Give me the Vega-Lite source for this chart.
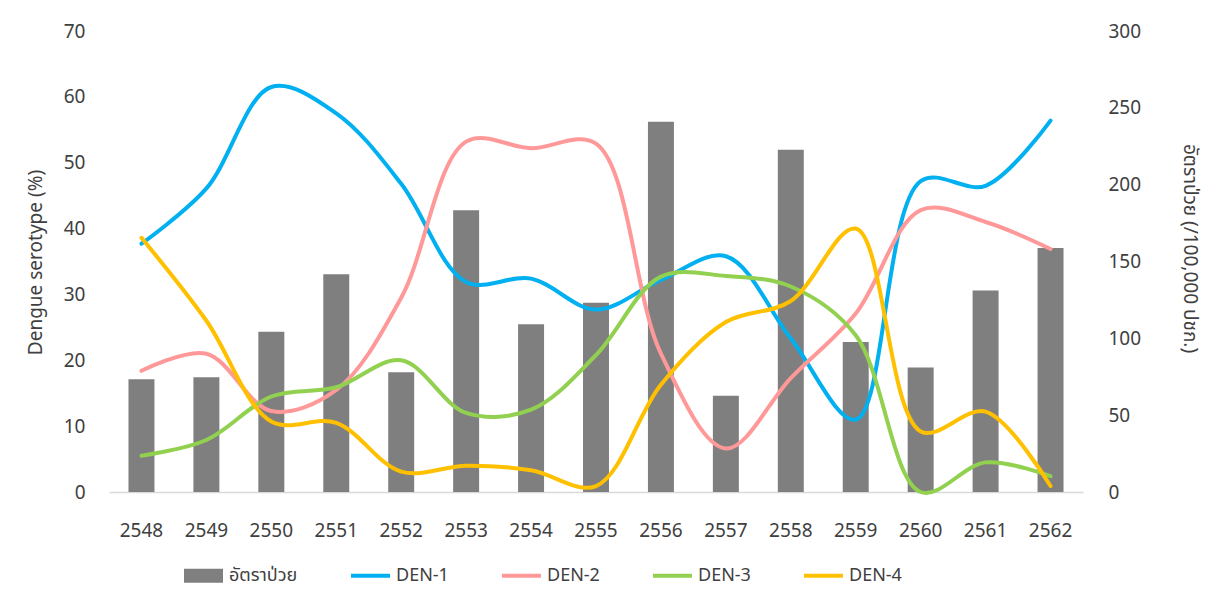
{
  "$schema": "https://vega.github.io/schema/vega-lite/v6.json",
  "width": 974,
  "height": 461,
  "autosize": {"type": "none"},
  "padding": {"left": 109, "top": 31, "right": 136, "bottom": 105},
  "background": "white",
  "datasets": {
    "rate": [
      {"year": "2548", "series": "อัตราป่วย", "rate": 73.3},
      {"year": "2549", "series": "อัตราป่วย", "rate": 74.6},
      {"year": "2550", "series": "อัตราป่วย", "rate": 104.3},
      {"year": "2551", "series": "อัตราป่วย", "rate": 141.7},
      {"year": "2552", "series": "อัตราป่วย", "rate": 77.9},
      {"year": "2553", "series": "อัตราป่วย", "rate": 183.3},
      {"year": "2554", "series": "อัตราป่วย", "rate": 109.1},
      {"year": "2555", "series": "อัตราป่วย", "rate": 123.2},
      {"year": "2556", "series": "อัตราป่วย", "rate": 241.0},
      {"year": "2557", "series": "อัตราป่วย", "rate": 62.7},
      {"year": "2558", "series": "อัตราป่วย", "rate": 222.8},
      {"year": "2559", "series": "อัตราป่วย", "rate": 97.6},
      {"year": "2560", "series": "อัตราป่วย", "rate": 81.1},
      {"year": "2561", "series": "อัตราป่วย", "rate": 131.2},
      {"year": "2562", "series": "อัตราป่วย", "rate": 158.8}
    ],
    "sero": [
      {"year": "2548", "series": "DEN-1", "pct": 37.7},
      {"year": "2549", "series": "DEN-1", "pct": 46.1},
      {"year": "2550", "series": "DEN-1", "pct": 61.5},
      {"year": "2551", "series": "DEN-1", "pct": 57.5},
      {"year": "2552", "series": "DEN-1", "pct": 46.8},
      {"year": "2553", "series": "DEN-1", "pct": 31.9},
      {"year": "2554", "series": "DEN-1", "pct": 32.4},
      {"year": "2555", "series": "DEN-1", "pct": 27.7},
      {"year": "2556", "series": "DEN-1", "pct": 32.2},
      {"year": "2557", "series": "DEN-1", "pct": 35.8},
      {"year": "2558", "series": "DEN-1", "pct": 23.3},
      {"year": "2559", "series": "DEN-1", "pct": 11.0},
      {"year": "2560", "series": "DEN-1", "pct": 47.2},
      {"year": "2561", "series": "DEN-1", "pct": 46.5},
      {"year": "2562", "series": "DEN-1", "pct": 56.4},
      {"year": "2548", "series": "DEN-2", "pct": 18.4},
      {"year": "2549", "series": "DEN-2", "pct": 21.0},
      {"year": "2550", "series": "DEN-2", "pct": 12.3},
      {"year": "2551", "series": "DEN-2", "pct": 15.5},
      {"year": "2552", "series": "DEN-2", "pct": 29.5},
      {"year": "2553", "series": "DEN-2", "pct": 53.2},
      {"year": "2554", "series": "DEN-2", "pct": 52.2},
      {"year": "2555", "series": "DEN-2", "pct": 52.9},
      {"year": "2556", "series": "DEN-2", "pct": 21.0},
      {"year": "2557", "series": "DEN-2", "pct": 6.6},
      {"year": "2558", "series": "DEN-2", "pct": 17.3},
      {"year": "2559", "series": "DEN-2", "pct": 27.1},
      {"year": "2560", "series": "DEN-2", "pct": 42.8},
      {"year": "2561", "series": "DEN-2", "pct": 41.0},
      {"year": "2562", "series": "DEN-2", "pct": 36.9},
      {"year": "2548", "series": "DEN-3", "pct": 5.5},
      {"year": "2549", "series": "DEN-3", "pct": 7.9},
      {"year": "2550", "series": "DEN-3", "pct": 14.5},
      {"year": "2551", "series": "DEN-3", "pct": 15.9},
      {"year": "2552", "series": "DEN-3", "pct": 20.0},
      {"year": "2553", "series": "DEN-3", "pct": 12.0},
      {"year": "2554", "series": "DEN-3", "pct": 12.5},
      {"year": "2555", "series": "DEN-3", "pct": 20.8},
      {"year": "2556", "series": "DEN-3", "pct": 32.7},
      {"year": "2557", "series": "DEN-3", "pct": 32.8},
      {"year": "2558", "series": "DEN-3", "pct": 31.2},
      {"year": "2559", "series": "DEN-3", "pct": 23.8},
      {"year": "2560", "series": "DEN-3", "pct": 0.0},
      {"year": "2561", "series": "DEN-3", "pct": 4.5},
      {"year": "2562", "series": "DEN-3", "pct": 2.4},
      {"year": "2548", "series": "DEN-4", "pct": 38.6},
      {"year": "2549", "series": "DEN-4", "pct": 26.0},
      {"year": "2550", "series": "DEN-4", "pct": 10.7},
      {"year": "2551", "series": "DEN-4", "pct": 10.5},
      {"year": "2552", "series": "DEN-4", "pct": 3.1},
      {"year": "2553", "series": "DEN-4", "pct": 4.0},
      {"year": "2554", "series": "DEN-4", "pct": 3.3},
      {"year": "2555", "series": "DEN-4", "pct": 0.9},
      {"year": "2556", "series": "DEN-4", "pct": 16.3},
      {"year": "2557", "series": "DEN-4", "pct": 25.8},
      {"year": "2558", "series": "DEN-4", "pct": 29.0},
      {"year": "2559", "series": "DEN-4", "pct": 40.0},
      {"year": "2560", "series": "DEN-4", "pct": 9.2},
      {"year": "2561", "series": "DEN-4", "pct": 12.2},
      {"year": "2562", "series": "DEN-4", "pct": 0.9}
    ]
  },
  "config": {
    "view": {"stroke": null},
    "font": "Noto Sans, Noto Sans Thai, Loma, Tahoma, sans-serif",
    "axis": {
      "grid": false,
      "ticks": false,
      "labelColor": "#404040",
      "labelFontSize": 19,
      "titleColor": "#404040",
      "titleFontSize": 19,
      "titleFontWeight": "normal"
    }
  },
  "encoding": {
    "x": {
      "field": "year",
      "type": "ordinal",
      "scale": {"paddingInner": 0.6, "paddingOuter": 0.3},
      "axis": {
        "title": null,
        "labelAngle": 0,
        "labelPadding": 29,
        "domainColor": "#D9D9D9",
        "domainWidth": 1.5
      }
    }
  },
  "layer": [
    {
      "data": {"name": "rate"},
      "mark": {"type": "bar"},
      "encoding": {
        "y": {
          "field": "rate",
          "type": "quantitative",
          "scale": {"domain": [0, 300], "nice": false},
          "axis": {
            "orient": "right",
            "values": [0, 50, 100, 150, 200, 250, 300],
            "domain": false,
            "labelPadding": 25,
            "labelAlign": "left",
            "title": "อัตราป่วย (/100,000 ปชก.)",
            "titleAngle": 90,
            "titleX": 106,
            "titleY": 217,
            "titleAlign": "center",
            "titleBaseline": "middle"
          }
        },
        "color": {
          "field": "series",
          "type": "nominal",
          "scale": {
            "domain": ["อัตราป่วย", "DEN-1", "DEN-2", "DEN-3", "DEN-4"],
            "range": ["#7F7F7F", "#00B0F0", "#FF9999", "#92D050", "#FFC000"]
          },
          "legend": {
            "title": null,
            "orient": "none",
            "legendX": 75,
            "legendY": 525,
            "direction": "horizontal",
            "columns": 5,
            "padding": 0,
            "columnPadding": 53,
            "symbolSize": 1521,
            "symbolStrokeWidth": 0,
            "labelOffset": 6,
            "labelFontSize": 18,
            "labelColor": "#404040",
            "encode": {
              "symbols": {
                "update": {
                  "shape": {"signal": "datum.value === 'อัตราป่วย' ? 'M-1,-0.36H1V0.36H-1Z' : 'M-1,-0.1H1V0.1H-1Z'"},
                  "fill": {"scale": "color", "field": "value"},
                  "stroke": {"value": "transparent"}
                }
              }
            }
          }
        }
      }
    },
    {
      "data": {"name": "sero"},
      "mark": {"type": "line", "interpolate": "catmull-rom", "strokeWidth": 4, "strokeCap": "round"},
      "encoding": {
        "y": {
          "field": "pct",
          "type": "quantitative",
          "scale": {"domain": [0, 70], "nice": false},
          "axis": {
            "orient": "left",
            "values": [0, 10, 20, 30, 40, 50, 60, 70],
            "domain": false,
            "labelPadding": 24,
            "title": "Dengue serotype (%)",
            "titleAngle": 270,
            "titleX": -74,
            "titleY": 231,
            "titleAlign": "center",
            "titleBaseline": "middle"
          }
        },
        "color": {"field": "series", "type": "nominal"}
      }
    }
  ],
  "resolve": {"scale": {"y": "independent"}}
}
